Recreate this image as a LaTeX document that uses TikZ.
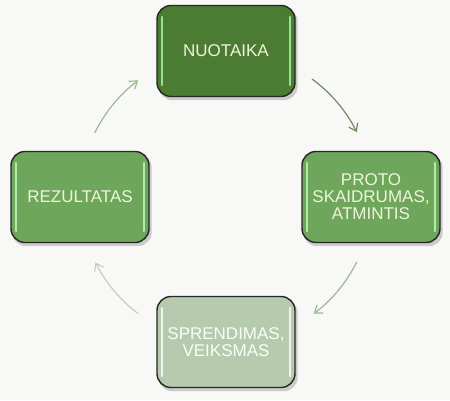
\documentclass[tikz,border=0pt]{standalone}
\usepackage{fontspec}
\setmainfont{Liberation Sans}
\usetikzlibrary{arrows.meta,calc}
\definecolor{bg}{HTML}{F8F8F6}
\definecolor{cTop}{HTML}{4C7B34}
\definecolor{cMid}{HTML}{6EA65C}
\definecolor{cBot}{HTML}{B6CAAE}
\definecolor{txtA}{HTML}{EEF5DC}
\definecolor{aOne}{HTML}{6E8C62}
\definecolor{aTwo}{HTML}{9CB894}
\definecolor{aThree}{HTML}{C2D0BE}
\definecolor{aFour}{HTML}{9CBC90}
\tikzset{
  box/.style={draw=black!85, line width=1.4pt, rounded corners=14pt,
    minimum width=138pt, minimum height=91pt, inner sep=2pt,
    text=txtA, align=center, font=\fontsize{17}{17}\selectfont},
  arr/.style={line width=1.2pt, -{Straight Barb[length=7pt,width=10pt]}},
}
\newcommand{\gloss}[1]{%
  \fill[black, opacity=0.18, rounded corners=14pt]
    ([xshift=2pt,yshift=-3pt]#1.south west) rectangle ([xshift=2pt,yshift=-3pt]#1.north east);
}
\newcommand{\shine}[2]{%
  \draw[#2, line width=1.8pt, line cap=round, opacity=0.8]
    ([xshift=6pt,yshift=-12pt]#1.north west) -- ([xshift=6pt,yshift=12pt]#1.south west);
  \draw[#2, line width=1.8pt, line cap=round, opacity=0.8]
    ([xshift=-6pt,yshift=-12pt]#1.north east) -- ([xshift=-6pt,yshift=12pt]#1.south east);
}
\begin{document}
\begin{tikzpicture}[x=1pt,y=1pt]
\fill[bg] (0,0) rectangle (450,400);
\useasboundingbox (0,0) rectangle (450,400);
\coordinate (c) at (226,203);
\path (226,349) coordinate (pt) (371,203) coordinate (pr) (226,58) coordinate (pb) (80,203) coordinate (pl);
\begin{scope}
\path node[box, draw=none, fill=none] (s1) at (pt) {};
\path node[box, draw=none, fill=none] (s2) at (pr) {};
\path node[box, draw=none, fill=none] (s3) at (pb) {};
\path node[box, draw=none, fill=none] (s4) at (pl) {};
\gloss{s1}\gloss{s2}\gloss{s3}\gloss{s4}
\end{scope}
\node[box, fill=cTop] (top) at (pt) {NUOTAIKA};
\node[box, fill=cMid] (right) at (pr) {PROTO\\SKAIDRUMAS,\\ATMINTIS};
\node[box, fill=cBot, text=white!97!green] (bottom) at (pb) {SPRENDIMAS,\\VEIKSMAS};
\node[box, fill=cMid] (left) at (pl) {REZULTATAS};
\shine{top}{green!35!white}
\shine{right}{green!25!white}
\shine{bottom}{white}
\shine{left}{green!25!white}
\coordinate (a1) at ($(c)+(53.9:146)$);
\coordinate (a2) at ($(c)+(-26.4:146)$);
\coordinate (a3) at ($(c)+(-126.9:146)$);
\coordinate (a4) at ($(c)+(154:146)$);
\draw[arr, aOne] (a1) arc[start angle=53.9, end angle=26.4, radius=146];
\draw[arr, aTwo] (a2) arc[start angle=-26.4, end angle=-53.1, radius=146];
\draw[arr, aThree] (a3) arc[start angle=-126.9, end angle=-153.4, radius=146];
\draw[arr, aFour] (a4) arc[start angle=154, end angle=127, radius=146];
\end{tikzpicture}
\end{document}
